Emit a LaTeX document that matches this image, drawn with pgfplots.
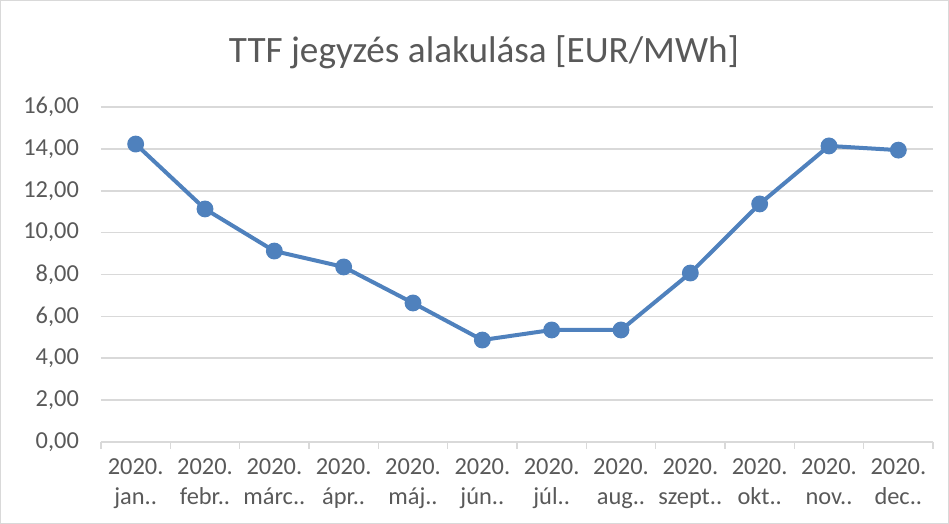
\documentclass[border=0pt]{standalone}
\usepackage{fontspec}
\setmainfont{Carlito}
\usepackage{pgfplots}
\pgfplotsset{compat=1.18}
\definecolor{linecol}{HTML}{4F81BD}
\definecolor{gridcol}{HTML}{D9D9D9}
\definecolor{labcol}{HTML}{595959}
\begin{document}
\begin{tikzpicture}
% outer frame, 949x524 px at 0.5pt per px
\draw[gridcol, line width=0.6pt] (0.3pt,0.3pt) rectangle (474.2pt,261.7pt);
\node[text=labcol, font=\fontsize{18.6}{22}\selectfont] at (242pt,236pt) {TTF jegyzés alakulása [EUR/MWh]};
\begin{axis}[
    at={(50.5pt,41pt)}, anchor=south west,
    scale only axis, width=416pt, height=167.5pt,
    xmin=-0.5, xmax=11.5, ymin=0, ymax=16,
    axis lines*=left,
    x axis line style={draw=gridcol, line width=0.8pt, -},
    y axis line style={draw=none},
    ytick={0,2,...,16},
    ymajorgrids, grid style={gridcol, line width=0.8pt},
    xtick={0,...,11},
    xticklabels={{2020.\\jan..},{2020.\\febr..},{2020.\\márc..},{2020.\\ápr..},{2020.\\máj..},{2020.\\jún..},{2020.\\júl..},{2020.\\aug..},{2020.\\szept..},{2020.\\okt..},{2020.\\nov..},{2020.\\dec..}},
    minor xtick={-0.5,0.5,...,11.5},
    major tick length=0pt, minor tick length=3.5pt,
    tick align=outside,
    minor tick style={draw=gridcol, line width=0.8pt},
    tick label style={text=labcol, font=\fontsize{12.2}{15}\selectfont},
    xticklabel style={align=center, yshift=-5pt},
    yticklabel style={xshift=-7.5pt},
    /pgf/number format/.cd, fixed, fixed zerofill, precision=2, use comma, assume math mode=true,
]
\addplot[linecol, line width=2pt, mark=*, mark size=3.2pt, mark options={fill=linecol, draw=linecol}]
coordinates {(0,14.23)(1,11.13)(2,9.12)(3,8.36)(4,6.64)(5,4.87)(6,5.35)(7,5.35)(8,8.07)(9,11.37)(10,14.14)(11,13.94)};
\end{axis}
\end{tikzpicture}
\end{document}
